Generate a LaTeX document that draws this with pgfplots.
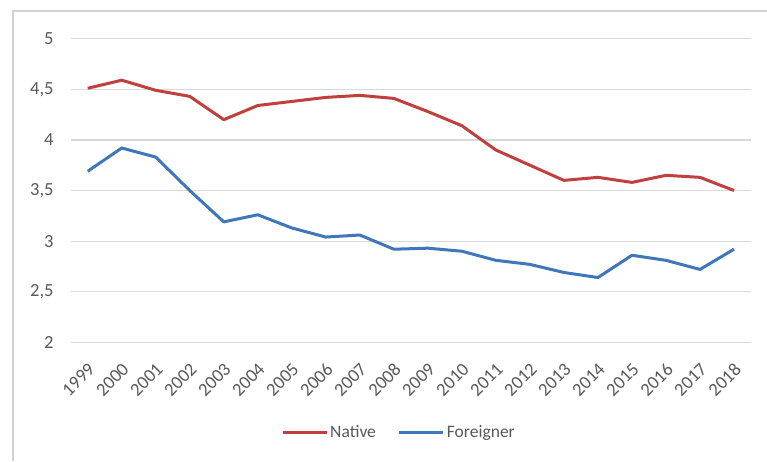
\documentclass[border=0pt]{standalone}
\usepackage{pgfplots}
\pgfplotsset{compat=1.18}
\usepackage{fontspec}
\setmainfont{Carlito}
\definecolor{txtgray}{RGB}{89,89,89}
\definecolor{gridgray}{RGB}{217,217,217}
\definecolor{framegray}{RGB}{210,210,210}
\definecolor{natred}{RGB}{192,64,62}
\definecolor{forblue}{RGB}{64,118,186}
\begin{document}
\begin{tikzpicture}[x=1pt,y=1pt]
\useasboundingbox (0,0) rectangle (767,461);
\fill[white] (0,0) rectangle (767,461);
\draw[framegray, line width=2pt] (13,0) -- (13,450) -- (767,450);
\begin{axis}[
  at={(70.7pt,118.7pt)}, anchor=south west,
  scale only axis, width=680.3pt, height=303.6pt,
  xmin=1998.5, xmax=2018.5, ymin=2, ymax=5,
  xtick={1999,...,2018},
  ytick={2,2.5,3,3.5,4,4.5,5},
  yticklabels={2,{2,5},3,{3,5},4,{4,5},5},
  /pgf/number format/1000 sep={},
  /pgf/number format/assume math mode=true,
  axis line style={draw=none},
  major tick length=0pt,
  ymajorgrids, grid style={gridgray, line width=1.2pt},
  tick label style={font=\fontsize{18.5}{18.5}\selectfont, text=txtgray},
  yticklabel style={anchor=east, inner sep=0pt, xshift=-17pt},
  xticklabel style={xshift=4pt, yshift=-24pt, rotate=45, anchor=east, inner sep=0pt},
  clip=false,
  legend style={at={(0.4826,-0.2955)}, anchor=center, draw=none, fill=none,
    font=\fontsize{17.5}{17.5}\selectfont, text=txtgray, inner sep=0pt,
    legend columns=2, /tikz/every even column/.append style={column sep=20pt}},
  legend cell align=left,
  legend image code/.code={\draw[#1, line width=3pt] (0pt,0pt) -- (44pt,0pt);},
]
\addplot[natred, line width=3pt, line join=round] coordinates {
(1999,4.51) (2000,4.59) (2001,4.49) (2002,4.43) (2003,4.20) (2004,4.34)
(2005,4.38) (2006,4.42) (2007,4.44) (2008,4.41) (2009,4.28) (2010,4.14)
(2011,3.90) (2012,3.75) (2013,3.60) (2014,3.63) (2015,3.58) (2016,3.65)
(2017,3.63) (2018,3.50)};
\addlegendentry{Native}
\addplot[forblue, line width=3pt, line join=round] coordinates {
(1999,3.69) (2000,3.92) (2001,3.83) (2002,3.50) (2003,3.19) (2004,3.26)
(2005,3.13) (2006,3.04) (2007,3.06) (2008,2.92) (2009,2.93) (2010,2.90)
(2011,2.81) (2012,2.77) (2013,2.69) (2014,2.64) (2015,2.86) (2016,2.81)
(2017,2.72) (2018,2.92)};
\addlegendentry{Foreigner}
\end{axis}
\end{tikzpicture}
\end{document}
